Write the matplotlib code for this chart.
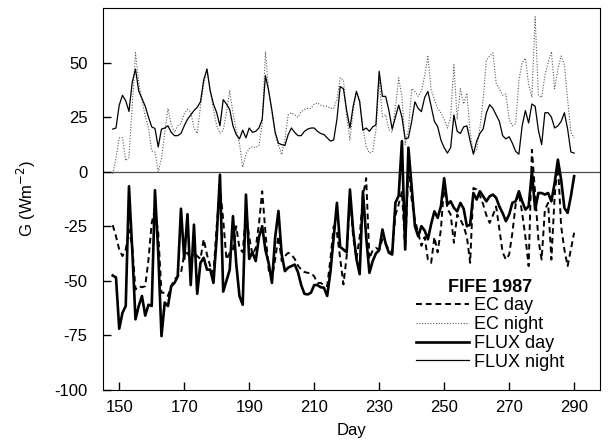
import numpy as np
import matplotlib
matplotlib.use("Agg")
import matplotlib.pyplot as plt

plt.rcParams['font.family'] = ['Liberation Sans', 'DejaVu Sans']
plt.rcParams['axes.unicode_minus'] = False

# -----------------------------
# Data, daily values, day 148 .. 290
# -----------------------------
days = np.arange(148, 291)

flux_night = [
    19.5, 20, 30.5, 35, 32.5, 27.6, 41, 47, 37, 33.5,
    30, 25, 20.5, 19.8, 11.3, 19.5, 20, 21, 18, 16.5,
    16.5, 17.5, 21, 24, 26, 28, 29.5, 32, 42, 47,
    37, 31, 27, 21, 33, 31, 28.5, 21, 17, 15,
    19, 15.5, 20, 18, 18.5, 20, 24, 44, 37, 28,
    18, 13, 12.4, 12, 17, 20, 18, 16.5, 16.5, 18.5,
    19.5, 20, 20, 18.5, 17.5, 17, 15.5, 14, 14.5, 24,
    39, 38, 28, 20, 30, 36.8, 32, 19, 20, 18.5,
    20.5, 21.5, 46, 34.5, 34.5, 28, 19.5, 25, 30.5, 25,
    15, 15.5, 23, 32, 29, 27.5, 34, 36.8, 30, 23,
    20.7, 14.5, 11, 8.5, 11, 26, 18.5, 17.5, 20.5, 21,
    14, 8, 14, 17.5, 19.5, 27, 30.7, 29, 26, 23,
    16.5, 15, 16, 13, 9.3, 8, 21, 28, 22.3, 31,
    30, 19, 12.4, 27, 27, 25, 20, 21, 23, 27,
    19.5, 9, 8.5,
]

ec_night = [
    -1, 6, 15.5, 15.5, 5, 6.5, 30, 54.5, 41, 32.5,
    25.5, 20, 9.5, 9, 0, 6, 18, 29, 21.5, 18,
    21, 22, 26.5, 28.5, 27.5, 20, 17.5, 30, 40, 47,
    37, 28.5, 21, 17.5, 19, 27, 37, 27, 19, 13,
    2, 8, 10.5, 11.5, 11, 12, 22, 55, 37, 27,
    17, 12, 7.8, 15, 26, 27, 26, 25, 27.5, 28.5,
    29, 29, 31, 31.5, 30.5, 30, 30, 29, 29, 33,
    43, 42, 25, 14.6, 28, 36.8, 33, 20, 11.6, 8.5,
    9.3, 19, 42, 25.3, 26, 19.2, 18, 29, 43, 34.5,
    12.4, 19.2, 38, 36.8, 34.5, 37, 44, 52.8, 37.5, 33,
    29, 27, 24, 20, 25, 49, 24, 38, 31, 36,
    18, 8.5, 10, 20, 33, 51, 53, 54.5, 40.6, 38,
    35, 35.5, 24, 21, 22, 42, 50, 52, 40, 34,
    71, 35, 34, 44, 50, 55, 38, 47, 53, 49,
    33, 18, 15.4,
]

flux_day = [
    -47.6, -48.5, -72, -64.7, -61.6, -6.7, -35.7, -67.7, -61.6, -57,
    -66, -61, -61.6, -8.5, -37, -75.4, -60, -61.6, -52.5, -51,
    -48, -17, -40, -19.5, -52, -24.3, -56, -41.8, -39.5, -44.9,
    -44.9, -51, -30, -1.4, -55, -50, -45, -20.4, -42, -57,
    -61, -10.5, -40, -37, -41, -30, -25, -36, -42, -51,
    -30, -18, -38, -45.6, -44, -43.3, -42.6, -46, -52, -56,
    -56.3, -55.5, -52, -52, -53, -53.2, -57, -46, -30, -14.3,
    -34.5, -35.7, -37, -8.2, -27, -40, -47, -9, -30, -46.4,
    -41, -37.5, -36, -26.5, -33, -37.2, -38, -14.3, -11, 14,
    -35.7, 11, -6.7, -25, -29.6, -25, -27, -31, -24, -18.2,
    -21.2, -15.9, -3, -15, -13.6, -16.6, -18.2, -14.3, -17, -25,
    -24.3, -9.8, -12.8, -9, -11.3, -13.6, -11.3, -10.5, -12, -16,
    -19, -22.7, -19.7, -14.3, -13.6, -9, -13.6, -17.4, -15.9, 0,
    -17.4, -9.8, -9.8, -10.5, -9.8, -13.6, -5.2, 5.5, -3.7, -16.6,
    -18.9, -11.3, -2.1,
]

ec_day = [
    -24.5, -29.6, -35.7, -38.7, -35.7, -26.5, -34.2, -54, -52.5, -53,
    -52.5, -40.3, -23.5, -17, -28, -55.5, -55.5, -57, -52.5, -49.4,
    -48, -46.4, -38, -37.2, -40.3, -37.2, -38.7, -40, -31, -38,
    -43.3, -46.4, -25, -6.7, -22, -40.3, -37.2, -35.7, -25, -35,
    -37, -19, -30, -38, -35, -24, -9, -28, -45, -49,
    -40, -29.6, -41, -38.7, -37.2, -38, -40, -43, -44.9, -46,
    -46.4, -46.4, -48, -51, -51, -52, -52.5, -40, -25, -28,
    -40, -51.7, -38.7, -11.3, -30, -40, -30, -11.3, -3, -40,
    -36, -35, -35.7, -31, -33, -36, -37, -20, -15, -9,
    -35.7, 2, -12.8, -22, -28, -34, -30, -40.3, -41.8, -30,
    -37, -26.5, -6, -17, -19.7, -32.6, -19.7, -22, -25, -30,
    -41.8, -7.5, -8.2, -11, -15, -20, -23.5, -20, -16, -26.5,
    -37, -40.3, -38, -28, -15, -9.8, -18.9, -30, -43.3, 10,
    -9.8, -31.1, -40.3, -17.4, -14.3, -40.3, -11.3, 4, -25, -35.7,
    -43.3, -35.7, -28,
]

xticks = [150, 170, 190, 210, 230, 250, 270, 290]
yticks = [-100, -75, -50, -25, 0, 25, 50]

# -----------------------------
# Plot
# -----------------------------
fig = plt.figure(figsize=(6.13, 4.46), dpi=100)
ax = fig.add_axes([0.168, 0.126, 0.811, 0.856])

ax.axhline(0, color="0.3", lw=0.9, zorder=1)

l_en, = ax.plot(days, ec_night, color="0.35", lw=0.8, ls=(0, (1, 1.5)))
l_fn, = ax.plot(days, flux_night, color="black", lw=0.9)
l_ed, = ax.plot(days, ec_day, color="black", lw=1.4, ls=(0, (3, 2)))
l_fd, = ax.plot(days, flux_day, color="black", lw=1.9)

ax.set_xlim(145, 298)
ax.set_ylim(-100, 75)
ax.set_xticks(xticks)
ax.set_yticks(yticks)
ax.tick_params(direction="in", length=6, width=1, labelsize=12)
ax.tick_params(axis="y", pad=11)
ax.tick_params(axis="x", pad=7)

ax.set_xlabel("Day", fontsize=12, labelpad=6)
ax.set_ylabel("G (Wm$^{-2}$)", fontsize=12, labelpad=12)

ax.legend(
    [l_ed, l_en, l_fd, l_fn],
    ["EC day", "EC night", "FLUX day", "FLUX night"],
    title="FIFE 1987",
    title_fontproperties={"weight": "bold", "size": 13},
    fontsize=13,
    frameon=False,
    loc="upper left",
    bbox_to_anchor=(0.612, 0.315),
    borderpad=0,
    handlelength=2.9,
    handletextpad=0.3,
    labelspacing=0.1,
)

fig.savefig("out.png", dpi=100)
